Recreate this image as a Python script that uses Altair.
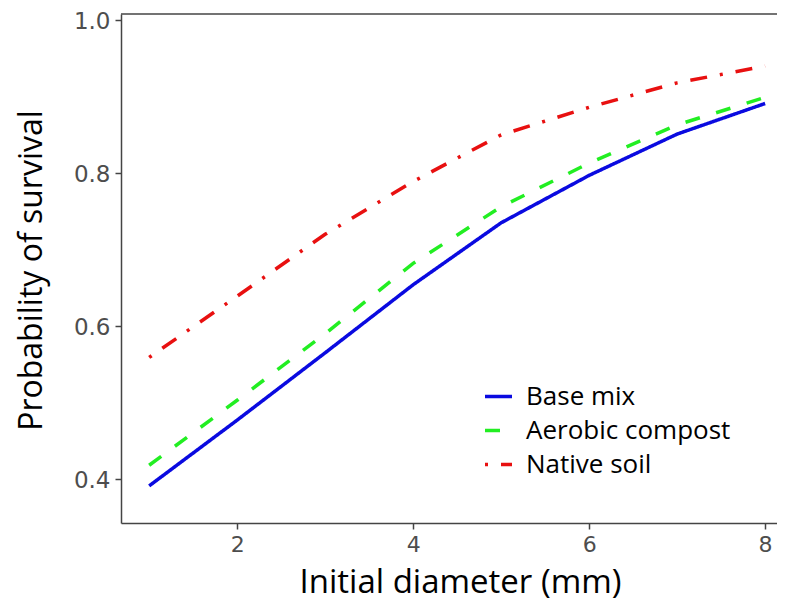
import altair as alt
import pandas as pd

diameter = [1, 2, 3, 4, 5, 6, 7, 8]
base_mix = [0.391, 0.477, 0.565, 0.654, 0.735, 0.797, 0.851, 0.891]
aerobic_compost = [0.418, 0.503, 0.590, 0.682, 0.756, 0.813, 0.863, 0.899]
native_soil = [0.559, 0.639, 0.720, 0.789, 0.850, 0.886, 0.918, 0.940]

series_names = ["Base mix", "Aerobic compost", "Native soil"]
series_colors = ["#0a0ae0", "#22ee22", "#e81010"]
series_dash = [[1, 0], [15, 17], [3, 13, 17, 13]]

rows = []
for name, vals in zip(series_names, [base_mix, aerobic_compost, native_soil]):
    for d, v in zip(diameter, vals):
        rows.append({"diameter": d, "prob": v, "treatment": name})
df = pd.DataFrame(rows)

W, H = 656, 509

legend_kw = dict(title=None, orient="none", legendX=362, legendY=367,
                 symbolType="stroke", symbolSize=729, symbolStrokeWidth=3.5,
                 labelFontSize=26, labelFont="Open Sans", labelColor="#000000",
                 rowPadding=5, labelOffset=12, padding=0, labelLimit=400)

lines = alt.Chart(df).mark_line(strokeWidth=3.5, strokeCap="butt").encode(
    x=alt.X("diameter:Q",
            scale=alt.Scale(domain=[0.68, 8.135], nice=False, zero=False),
            axis=alt.Axis(values=[2, 4, 6, 8], title="Initial diameter (mm)", grid=False,
                          format="d", titleFontSize=33, titleX=339, titleY=69,
                          titleAlign="center", titleBaseline="alphabetic",
                          titleAnchor="start", labelFontSize=22, labelPadding=5)),
    y=alt.Y("prob:Q",
            scale=alt.Scale(domain=[0.3425, 1.008], nice=False, zero=False),
            axis=alt.Axis(values=[0.4, 0.6, 0.8, 1.0], format=".1f",
                          title="Probability of survival", grid=False,
                          titleFontSize=32, titleX=-80, titleY=256,
                          titleAlign="center", titleBaseline="alphabetic",
                          titleAngle=270, titleAnchor="start",
                          labelFontSize=23, labelOffset=1)),
    color=alt.Color("treatment:N",
                    scale=alt.Scale(domain=series_names, range=series_colors),
                    legend=alt.Legend(**legend_kw)),
    strokeDash=alt.StrokeDash("treatment:N",
                              scale=alt.Scale(domain=series_names, range=series_dash),
                              legend=alt.Legend(**legend_kw)),
    detail="treatment:N",
)

top_rule = alt.Chart(pd.DataFrame({"v": [0]})).mark_rule(color="#444444", strokeWidth=1.5).encode(
    x=alt.value(0), x2=alt.value(W), y=alt.value(0)
)

chart = alt.layer(lines, top_rule).properties(
    width=W, height=H,
    padding={"left": 113, "top": 6, "right": 0, "bottom": 77},
    autosize=alt.AutoSizeParams(type="none"),
).configure_view(stroke=None).configure_axis(
    domainColor="#444444", domainWidth=1.5, tickColor="#444444", tickWidth=1.5,
    tickSize=6, labelColor="#4d4d4d", labelFont="DejaVu Sans",
    titleFont="Open Sans", titleFontWeight="normal", titleColor="#000000",
    labelPadding=5,
)

chart.save("out.html", embed_options={"renderer": "svg", "actions": False})
